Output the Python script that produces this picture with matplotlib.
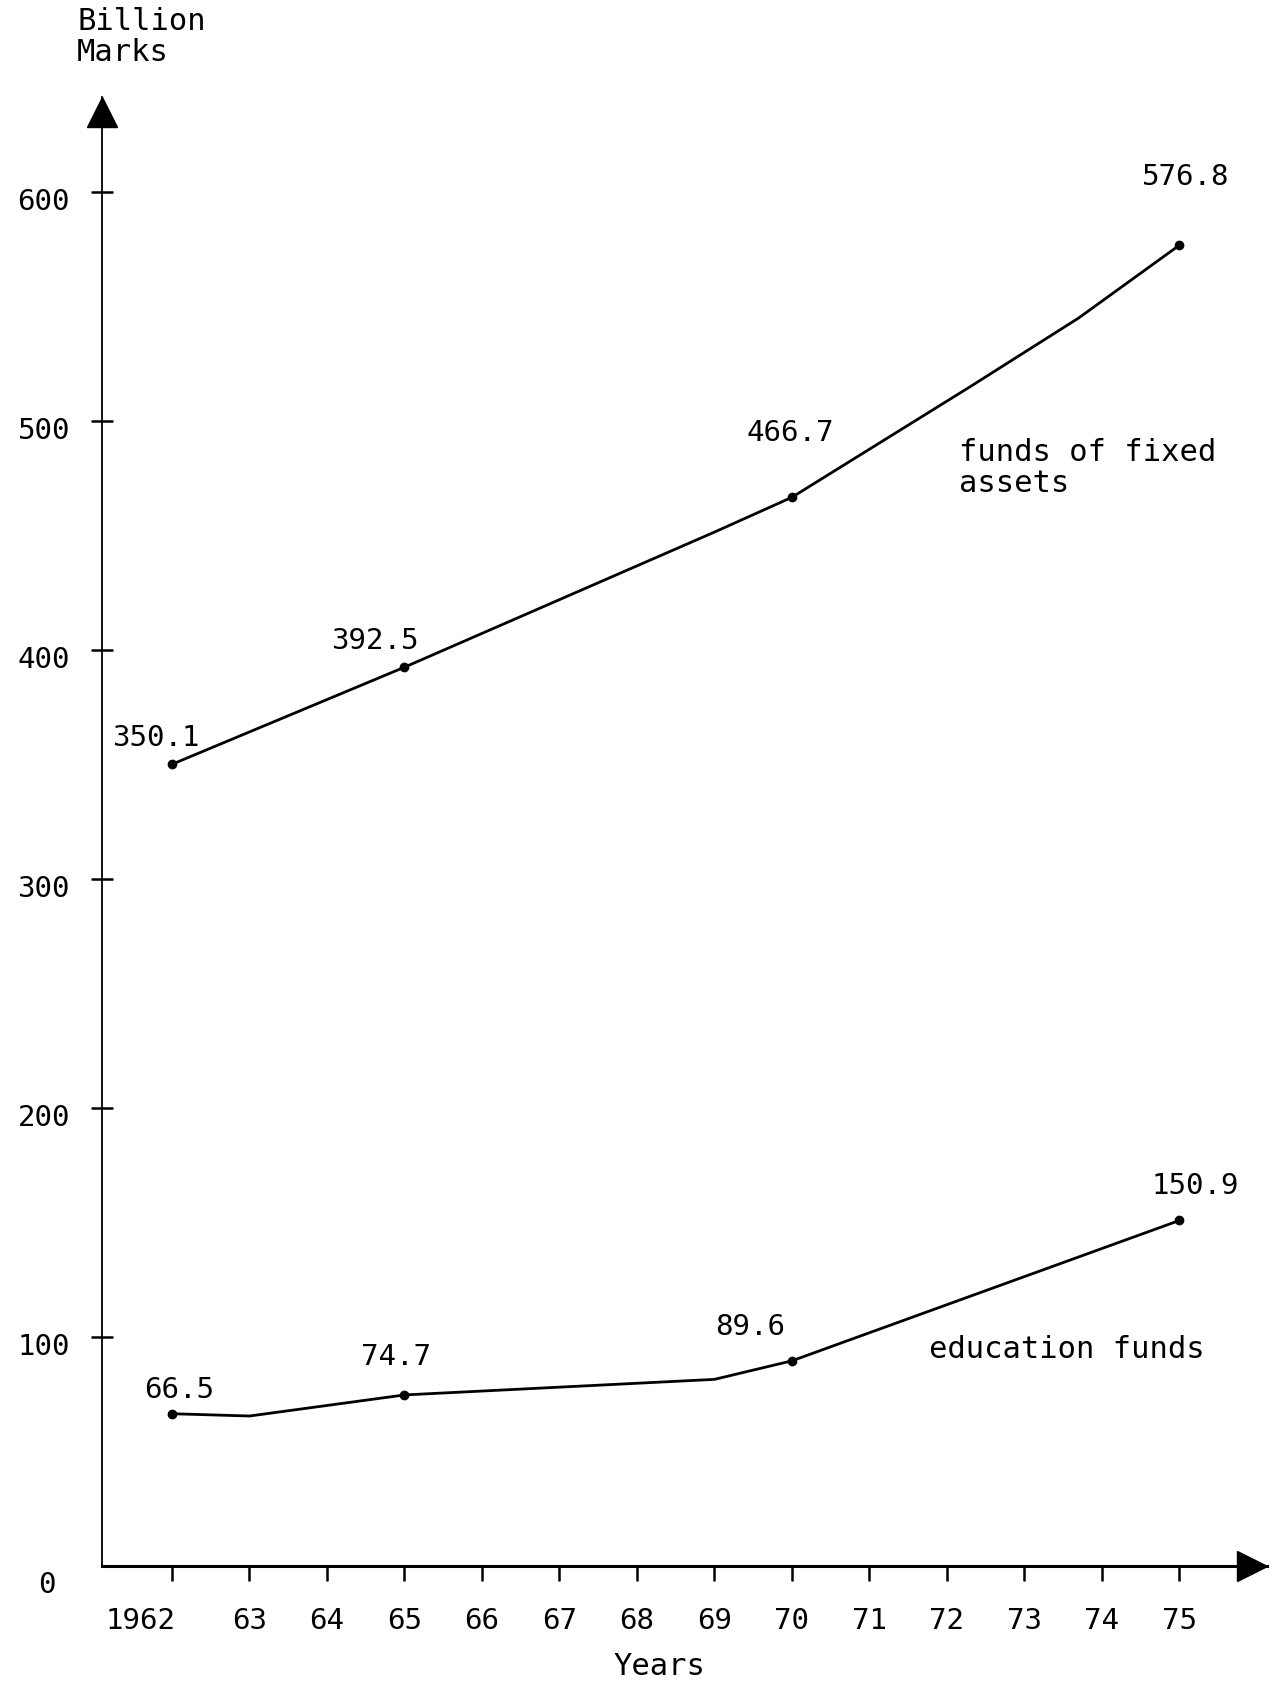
import matplotlib
matplotlib.use("Agg")
import matplotlib.pyplot as plt
from matplotlib.transforms import ScaledTranslation, offset_copy

# data (kinks without labels are estimated)
years_fixed = [1962, 1965, 1969, 1970, 1972.3, 1973.7, 1975]
fixed_assets = [350.1, 392.5, 451.5, 466.7, 515.0, 545.0, 576.8]
years_edu = [1962, 1963, 1965, 1969, 1970, 1975]
education = [66.5, 65.5, 74.7, 81.5, 89.6, 150.9]
labelled_years = [1962, 1965, 1970, 1975]

x_ticks = list(range(1962, 1976))
x_ticklabels = ["1962"] + [str(y)[2:] for y in x_ticks[1:]]
y_ticks = [0, 100, 200, 300, 400, 500, 600]

W, H = 1275, 1683
font = "DejaVu Sans Mono"
plt.rcParams["font.family"] = font
num_size = 21
word_size = 22

fig = plt.figure(figsize=(W / 100, H / 100), dpi=100)
ax = fig.add_axes([102 / W, 116 / H, 1165 / W, 1469 / H])
ax.set_xlim(1961.097, 1976.13)
ax.set_ylim(0, 641.5)

for s in ["top", "right"]:
    ax.spines[s].set_visible(False)
ax.spines["left"].set_linewidth(1.3)
ax.spines["bottom"].set_linewidth(2.2)

# arrow heads on both axes
ms = 21
ax.plot(0, 1, marker="^", ms=ms, color="black", clip_on=False,
        transform=offset_copy(ax.transAxes, fig=fig, y=-ms / 2, units="points"))
ax.plot(1, 0, marker=">", ms=ms, color="black", clip_on=False,
        transform=offset_copy(ax.transAxes, fig=fig, x=-ms / 2, units="points"))

ax.set_xticks(x_ticks)
ax.set_xticklabels(x_ticklabels)
ax.set_yticks(y_ticks)
ax.tick_params(axis="x", direction="out", length=11, width=1.8, pad=18,
               labelsize=num_size)
ax.tick_params(axis="y", direction="inout", length=16, width=1.8, pad=15,
               labelsize=num_size)

down = ScaledTranslation(0, -6 / 100, fig.dpi_scale_trans)
for lab in ax.get_yticklabels():
    lab.set_transform(lab.get_transform() + down)
yt = ax.yaxis.get_major_ticks()
yt[0].tick1line.set_visible(False)
yt[0].label1.set_transform(yt[0].label1.get_transform()
                           + ScaledTranslation(-14 / 100, -9 / 100, fig.dpi_scale_trans))
first = ax.get_xticklabels()[0]
first.set_ha("right")
first.set_transform(first.get_transform()
                    + ScaledTranslation(4 / 100, 0, fig.dpi_scale_trans))

# lines
ax.plot(years_fixed, fixed_assets, color="black", lw=2.0)
ax.plot(years_edu, education, color="black", lw=2.0)

fix_pts = [(y, v) for y, v in zip(years_fixed, fixed_assets) if y in labelled_years]
edu_pts = [(y, v) for y, v in zip(years_edu, education) if y in labelled_years]
ax.plot([p[0] for p in fix_pts], [p[1] for p in fix_pts], "o", color="black", ms=6)
ax.plot([p[0] for p in edu_pts], [p[1] for p in edu_pts], "o", color="black", ms=6)

fix_offsets = [(-16, 27), (-30, 27), (-2, 65), (6, 69)]
edu_offsets = [(7, 25), (-8, 39), (-42, 35), (16, 35)]
for (x, v), off in zip(fix_pts, fix_offsets):
    ax.annotate(f"{v:.1f}", (x, v), xytext=off, textcoords="offset pixels",
                ha="center", va="center", fontsize=num_size)
for (x, v), off in zip(edu_pts, edu_offsets):
    ax.annotate(f"{v:.1f}", (x, v), xytext=off, textcoords="offset pixels",
                ha="center", va="center", fontsize=num_size)

# axis titles and series names
fig.text(77 / W, 1 - 37 / H, "Billion\nMarks", ha="left", va="center",
         fontsize=word_size, linespacing=1.05)
fig.text(659 / W, 1 - 1667 / H, "Years", ha="center", va="center",
         fontsize=word_size)
fig.text(959 / W, 1 - 468 / H, "funds of fixed\nassets", ha="left",
         va="center", fontsize=word_size, linespacing=1.1)
fig.text(929 / W, 1 - 1350 / H, "education funds", ha="left", va="center",
         fontsize=word_size)

fig.savefig("out.png", dpi=100)
